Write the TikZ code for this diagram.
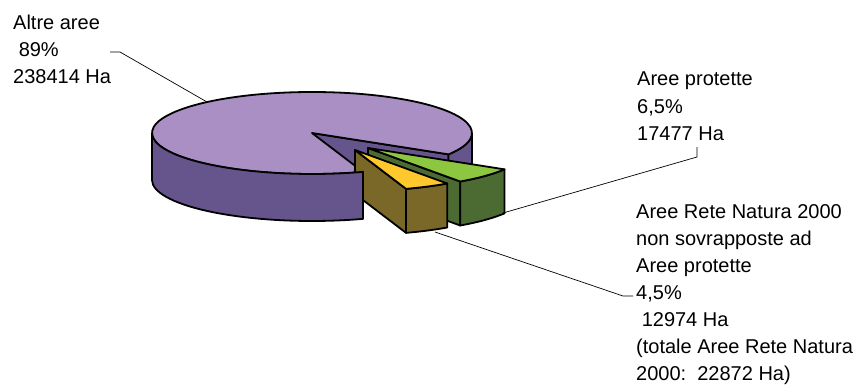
\documentclass[tikz,border=0pt]{standalone}
\usepackage{fontspec}
\setmainfont{Liberation Sans}
\usetikzlibrary{calc}

\definecolor{lila}{HTML}{A98FC4}
\definecolor{lilascuro}{HTML}{66548C}
\definecolor{verde}{HTML}{8DC63F}
\definecolor{verdescuro}{HTML}{4C6B32}
\definecolor{giallo}{HTML}{FFC82C}
\definecolor{oliva}{HTML}{7A6828}

\tikzset{
  faccia/.style={draw=black, line width=1.8pt, line join=round},
  etichetta/.style={inner sep=0pt, anchor=base west, align=left,
    font=\fontsize{20}{27}\selectfont},
  guida/.style={draw=black, line width=0.7pt},
  ell/.style={x radius=160, y radius=41},
}

\begin{document}
\begin{tikzpicture}[x=1pt,y=1pt]
  \useasboundingbox (0,0) rectangle (856,389);
  \def\hh{47}
  \def\hs{44}

  % 大きい扇形（Altre aree）
  \coordinate (O) at (312,256);
  \filldraw[faccia, fill=lilascuro] (O) -- ($(O)+(-31.4:160 and 41)$) -- ++(0,-\hh) -- ($(O)+(0,-\hh)$) -- cycle;
  \filldraw[faccia, fill=lilascuro] ($(O)+(-31.4:160 and 41)$)
    arc[ell, start angle=-31.4, end angle=0] -- ++(0,-\hh)
    arc[ell, start angle=0, end angle=-31.4] -- cycle;
  \filldraw[faccia, fill=lila] (O) -- ($(O)+(-31.4:160 and 41)$)
    arc[ell, start angle=-31.4, end angle=288.6] -- cycle;

  % 緑の扇形（Aree protette）
  \coordinate (G) at (368,241);
  \filldraw[faccia, fill=verdescuro] (G) -- ($(G)+(-54.8:160 and 41)$) -- ++(0,-\hs) -- ($(G)+(0,-\hs)$) -- cycle;
  \filldraw[faccia, fill=verdescuro] ($(G)+(-54.8:160 and 41)$)
    arc[ell, start angle=-54.8, end angle=-31.4] -- ++(0,-\hs)
    arc[ell, start angle=-31.4, end angle=-54.8] -- cycle;
  \filldraw[faccia, fill=verde] (G) -- ($(G)+(-54.8:160 and 41)$)
    arc[ell, start angle=-54.8, end angle=-31.4] -- cycle;

  % 黄色の扇形（Rete Natura 2000）
  \coordinate (Y) at (355,239);
  \filldraw[faccia, fill=oliva] (Y) -- ($(Y)+(-71.4:160 and 41)$) -- ++(0,-\hs) -- ($(Y)+(0,-\hs)$) -- cycle;
  \filldraw[faccia, fill=oliva] ($(Y)+(-71.4:160 and 41)$)
    arc[ell, start angle=-71.4, end angle=-54.8] -- ++(0,-\hs)
    arc[ell, start angle=-54.8, end angle=-71.4] -- cycle;
  \filldraw[faccia, fill=giallo] (Y) -- ($(Y)+(-71.4:160 and 41)$)
    arc[ell, start angle=-71.4, end angle=-54.8] -- cycle;

  % 大きい扇形の前の側面（黄色の面の左下を隠す）
  \filldraw[faccia, fill=lilascuro] ($(O)+(180:160 and 41)$)
    arc[ell, start angle=180, end angle=288.6] -- ++(0,-\hh)
    arc[ell, start angle=288.6, end angle=180] -- cycle;

  % ラベル（基準は最終行のベースライン）
  \node[etichetta] (altre) at (13,305.5) {Altre aree\\~89\%\\238414 Ha};
  \node[etichetta] (protette) at (637,249) {Aree protette\\6,5\%\\17477 Ha};
  \node[etichetta] (natura) at (636,9) {Aree Rete Natura 2000\\non sovrapposte ad\\Aree protette\\4,5\%\\~12974 Ha\\(totale Aree Rete Natura\\2000:\ \ 22872 Ha)};

  % 引き出し線
  \coordinate (altre-a) at (110,337);
  \coordinate (altre-b) at (120,337);
  \coordinate (altre-c) at (207,287);
  \draw[guida] (altre-a) -- (altre-b) -- (altre-c);
  \coordinate (protette-a) at (697,242);
  \coordinate (protette-b) at (697,232);
  \coordinate (protette-c) at (503,176);
  \draw[guida] (protette-a) -- (protette-b) -- (protette-c);
  \coordinate (natura-a) at (633,93);
  \coordinate (natura-b) at (623,93);
  \coordinate (natura-c) at (435,157);
  \draw[guida] (natura-a) -- (natura-b) -- (natura-c);
\end{tikzpicture}
\end{document}
